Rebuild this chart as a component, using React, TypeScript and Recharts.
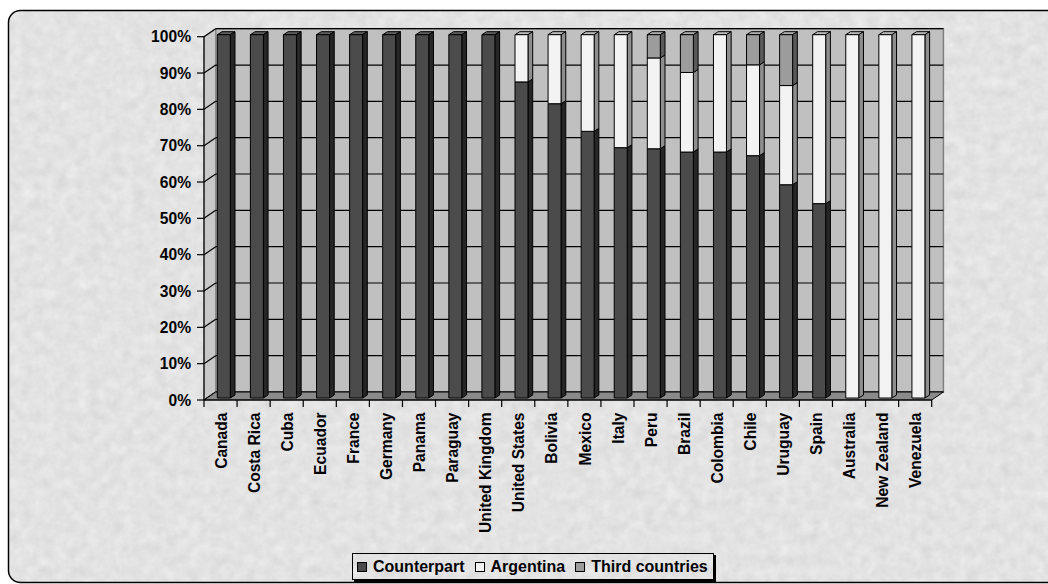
import { Bar, BarChart, Legend, ReferenceArea, XAxis, YAxis } from 'recharts';

const W = 1048;
const H = 584;
const FONT = '"Liberation Sans", Arial, sans-serif';

const countries = [
  'Canada', 'Costa Rica', 'Cuba', 'Ecuador', 'France', 'Germany', 'Panama', 'Paraguay',
  'United Kingdom', 'United States', 'Bolivia', 'Mexico', 'Italy', 'Peru', 'Brazil',
  'Colombia', 'Chile', 'Uruguay', 'Spain', 'Australia', 'New Zealand', 'Venezuela',
];
const counterpart = [100, 100, 100, 100, 100, 100, 100, 100, 100, 87, 81, 73.4, 68.9, 68.6, 67.7, 67.7, 66.7, 58.7, 53.5, 0, 0, 0];
const argentina = [0, 0, 0, 0, 0, 0, 0, 0, 0, 13, 19, 26.6, 31.1, 25, 21.9, 32.3, 25, 27.3, 46.5, 100, 100, 100];
const thirdCountries = [0, 0, 0, 0, 0, 0, 0, 0, 0, 0, 0, 0, 0, 6.4, 10.4, 0, 8.3, 14, 0, 0, 0, 0];
const yTicks = [0, 0.1, 0.2, 0.3, 0.4, 0.5, 0.6, 0.7, 0.8, 0.9, 1];

const rows = countries.map((name, i) => ({
  name,
  counterpart: counterpart[i],
  argentina: argentina[i],
  third: thirdCountries[i],
}));

// face / side / top shades for each series
const tones = {
  counterpart: { face: '#4b4b4b', side: '#262626', top: '#5e5e5e' },
  argentina: { face: '#f3f3f3', side: '#8e8e8e', top: '#bdbdbd' },
  third: { face: '#9c9c9c', side: '#5a5a5a', top: '#b0b0b0' },
};

// depth of the back wall relative to the front axis plane
const WALL_DX = 11.7;
const WALL_DY = -8;
// bars sit slightly behind the axis plane, with their own small depth
const BAR_SHIFT_X = 3.3;
const BAR_SHIFT_Y = -2;
const BAR_DX = 4.7;
const BAR_DY = -3;

type Tone = { face: string; side: string; top: string };

function Column3D(props: any & { tone: Tone }) {
  const { x, y, width, height, tone } = props;
  if (!height || height < 0.3) return <g />;
  const fx = x + BAR_SHIFT_X;
  const fy = y + BAR_SHIFT_Y;
  const r = fx + width;
  const b = fy + height;
  return (
    <g stroke="#000" strokeWidth={1} strokeLinejoin="round">
      <polygon points={`${fx},${fy} ${fx + BAR_DX},${fy + BAR_DY} ${r + BAR_DX},${fy + BAR_DY} ${r},${fy}`} fill={tone.top} />
      <polygon points={`${r},${fy} ${r + BAR_DX},${fy + BAR_DY} ${r + BAR_DX},${b + BAR_DY} ${r},${b}`} fill={tone.side} />
      <rect x={fx} y={fy} width={width} height={height} fill={tone.face} />
    </g>
  );
}

// back wall, side wall and floor of the 3-D plot box
function PlotBox(props: any) {
  const { x, y, width, height } = props;
  const bottom = y + height;
  const steps = yTicks.map((t) => bottom - t * height);
  return (
    <g>
      <rect x={x + WALL_DX} y={y + WALL_DY} width={width} height={height} fill="#c0c0c0" stroke="#808080" strokeWidth={1.5} />
      <polygon
        points={`${x},${bottom} ${x},${y} ${x + WALL_DX},${y + WALL_DY} ${x + WALL_DX},${bottom + WALL_DY}`}
        fill="#c8c8c8"
        stroke="#808080"
      />
      {steps.map((sy, i) => (
        <g key={i} stroke="#000" strokeWidth={1.2}>
          <line x1={x + WALL_DX} y1={sy + WALL_DY} x2={x + width + WALL_DX} y2={sy + WALL_DY} />
          <line x1={x} y1={sy} x2={x + WALL_DX} y2={sy + WALL_DY} />
        </g>
      ))}
      <polygon
        points={`${x},${bottom} ${x + width},${bottom} ${x + width + WALL_DX},${bottom + WALL_DY} ${x + WALL_DX},${bottom + WALL_DY}`}
        fill="#8a8a8a"
        stroke="#000"
        strokeWidth={1}
      />
    </g>
  );
}

function CountryTick(props: any) {
  const { x, y, payload, index, visibleTicksCount } = props;
  const half = payload?.offset || 16.5;
  return (
    <g>
      <line x1={x - half} y1={y} x2={x - half} y2={y + 7} stroke="#000" strokeWidth={1.2} />
      {index === visibleTicksCount - 1 && <line x1={x + half} y1={y} x2={x + half} y2={y + 7} stroke="#000" strokeWidth={1.2} />}
      <text
        transform={`translate(${x + 0.5},${y + 12.5}) rotate(-90)`}
        textAnchor="end"
        dy="0.36em"
        fill="#000"
        fontSize={15.6}
        fontWeight={700}
        fontFamily={FONT}
      >
        {payload.value}
      </text>
    </g>
  );
}

const legendItems = [
  { label: 'Counterpart', color: tones.counterpart.face },
  { label: 'Argentina', color: tones.argentina.face },
  { label: 'Third countries', color: tones.third.face },
];

function LegendBox() {
  return (
    <div
      style={{
        display: 'flex',
        alignItems: 'center',
        gap: 10,
        height: 25,
        padding: '0 5px 0 4px',
        border: '1px solid #000',
        boxShadow: '2px 2px 0 #000',
        fontFamily: FONT,
        fontWeight: 700,
        fontSize: 16,
        color: '#000',
        whiteSpace: 'nowrap',
      }}
    >
      {legendItems.map((item) => (
        <span key={item.label} style={{ display: 'flex', alignItems: 'center', gap: 6 }}>
          <span style={{ width: 8, height: 8, background: item.color, border: '1px solid #000' }} />
          {item.label}
        </span>
      ))}
    </div>
  );
}

function Backdrop() {
  return (
    <svg width={W} height={H} style={{ position: 'absolute', left: 0, top: 0 }}>
      <defs>
        <filter id="granite" x="0" y="0" width="100%" height="100%">
          <feTurbulence type="fractalNoise" baseFrequency="0.09" numOctaves={4} seed={11} result="noise" />
          <feColorMatrix
            in="noise"
            type="matrix"
            values="0.12 0.12 0 0 0.645  0.12 0.12 0 0 0.645  0.12 0.12 0 0 0.645  0 0 0 0 1"
          />
        </filter>
        <clipPath id="frame">
          <rect x={8.5} y={10.5} width={1060} height={572} rx={12} />
        </clipPath>
      </defs>
      <rect width={W} height={H} fill="#fff" />
      <g clipPath="url(#frame)">
        <rect x={0} y={0} width={W} height={H} filter="url(#granite)" />
      </g>
      <rect x={8.5} y={10.5} width={1060} height={572} rx={12} fill="none" stroke="#000" strokeWidth={1.5} />
    </svg>
  );
}

export default function App() {
  return (
    <div style={{ position: 'absolute', left: 0, top: 0, width: W, height: H }}>
      <Backdrop />
      <div style={{ position: 'absolute', left: 0, top: 0 }}>
        <BarChart
          width={W}
          height={H}
          data={rows}
          stackOffset="expand"
          barSize={13}
          margin={{ top: 36.7, right: 116.3, bottom: 0, left: 144 }}
        >
          <ReferenceArea y1={0} y2={1} shape={(p: any) => <PlotBox {...p} />} />
          <XAxis
            dataKey="name"
            interval={0}
            height={184}
            tickLine={false}
            tickSize={0}
            tickMargin={0}
            axisLine={{ stroke: '#000', strokeWidth: 1.2 }}
            tick={(p: any) => <CountryTick {...p} />}
          />
          <YAxis
            width={60}
            ticks={yTicks}
            domain={[0, 1]}
            tickFormatter={(v: number) => `${Math.round(v * 100)}%`}
            tickSize={7}
            tickMargin={6}
            axisLine={{ stroke: '#000', strokeWidth: 1.2 }}
            tickLine={{ stroke: '#000', strokeWidth: 1.2 }}
            tick={{ fill: '#000', fontSize: 15.6, fontWeight: 700, fontFamily: FONT }}
          />
          <Bar dataKey="counterpart" name="Counterpart" stackId="s" isAnimationActive={false}
            shape={(p: any) => <Column3D {...p} tone={tones.counterpart} />} />
          <Bar dataKey="argentina" name="Argentina" stackId="s" isAnimationActive={false}
            shape={(p: any) => <Column3D {...p} tone={tones.argentina} />} />
          <Bar dataKey="third" name="Third countries" stackId="s" isAnimationActive={false}
            shape={(p: any) => <Column3D {...p} tone={tones.third} />} />
          <Legend
            layout="horizontal"
            verticalAlign="middle"
            align="center"
            content={() => <LegendBox />}
            wrapperStyle={{ left: 352, top: 553, width: 'auto', height: 'auto' }}
          />
        </BarChart>
      </div>
    </div>
  );
}
